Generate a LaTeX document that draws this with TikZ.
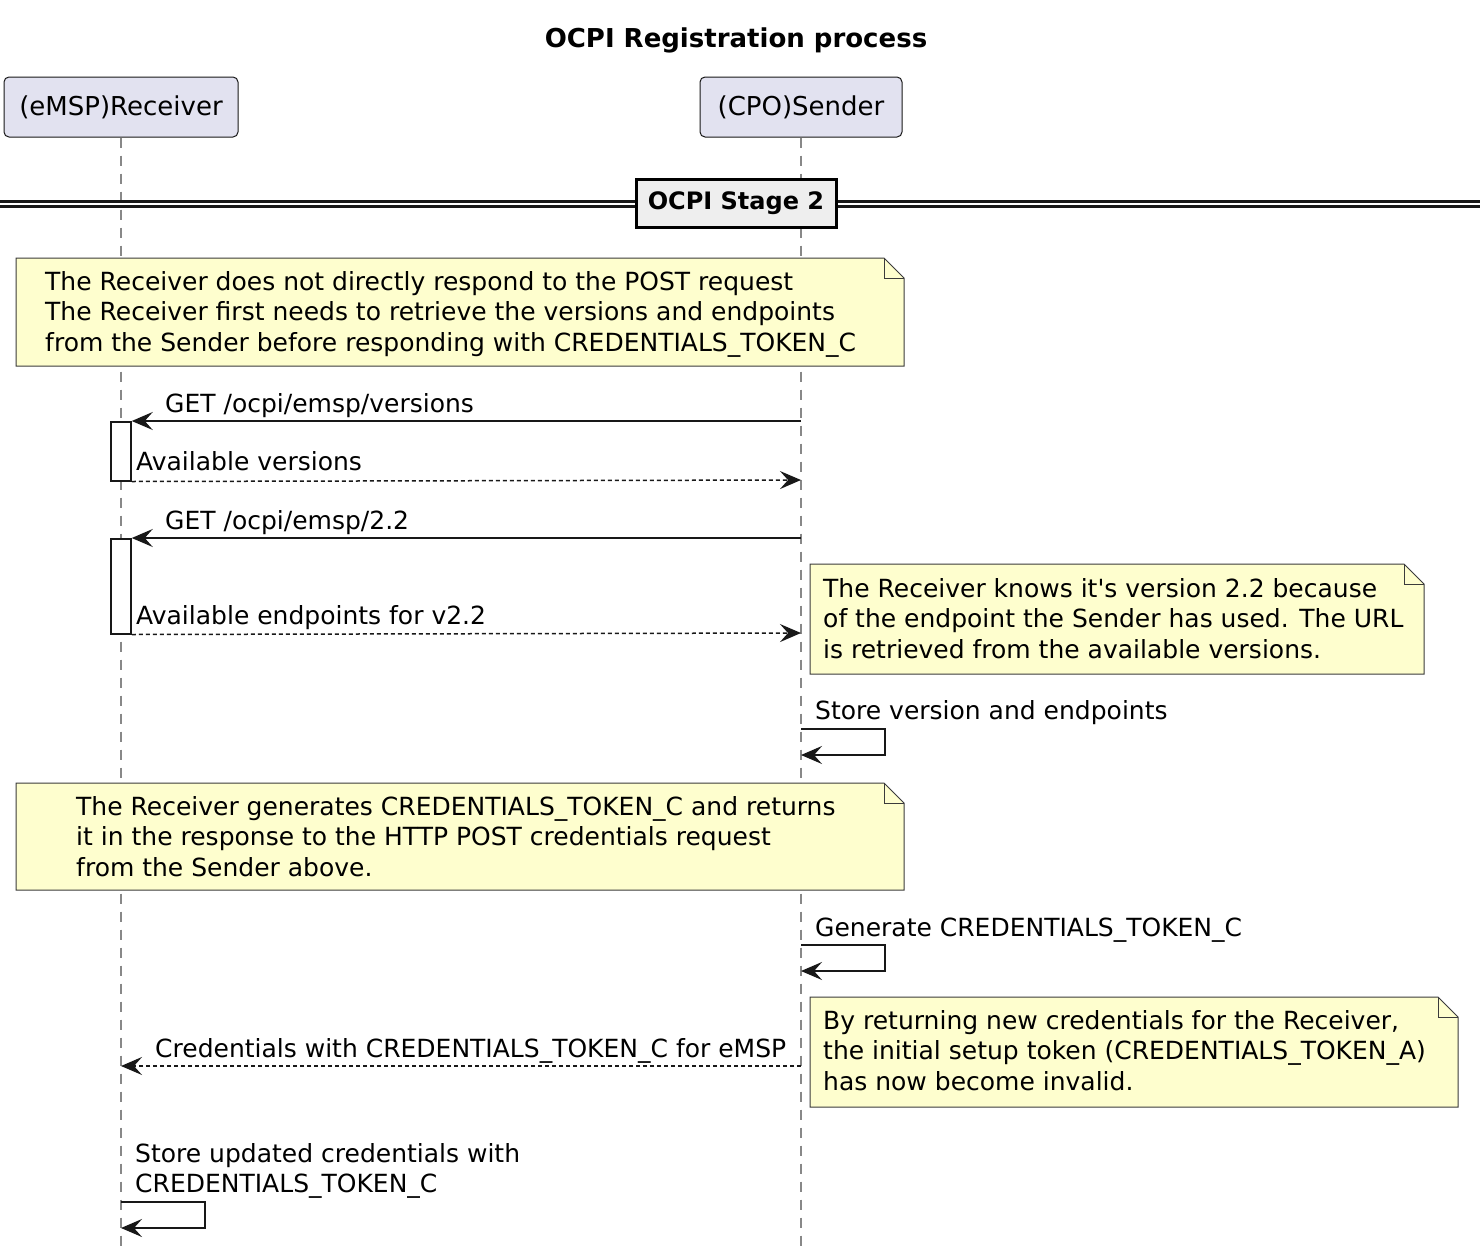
\documentclass[tikz,border=0pt]{standalone}
\usepackage{fontspec}
\setmainfont{DejaVu Sans}
\usetikzlibrary{arrows.meta}
\definecolor{partfill}{HTML}{E2E2F0}
\definecolor{notefill}{HTML}{FEFECE}
\definecolor{ink}{HTML}{181818}
\definecolor{divfill}{HTML}{EEEEEE}
\definecolor{lifegray}{HTML}{888888}
\newcommand\firstln{\rule{0pt}{22pt}}
\begin{document}
\begin{tikzpicture}[x=1pt,y=-1pt,
  basefont/.style={font=\fontsize{25}{30.5}\selectfont},
  lbl/.style={basefont, inner sep=0pt, anchor=base west},
  notetxt/.style={basefont, inner sep=0pt, anchor=north west, align=left},
  part/.style={font=\fontsize{26}{30}\selectfont, draw=ink, line width=1pt, fill=partfill, rounded corners=5pt, minimum height=60pt, inner sep=0pt},
  life/.style={draw=lifegray, line width=1.6pt, dash pattern=on 10pt off 8pt},
  notebox/.style={draw=ink!85, line width=1pt, fill=notefill},
  notefold/.style={draw=ink!85, line width=1pt},
  act/.style={draw=ink, line width=1.5pt, fill=white, inner sep=0pt, minimum width=20pt},
  msg/.style={draw=ink, line width=1.5pt, -{Stealth[length=21pt,width=18pt,inset=8pt]}},
  msgd/.style={msg, dash pattern=on 4pt off 3pt},
]
\useasboundingbox (0,0) rectangle (1480,1258);
\fill[white] (0,0) rectangle (1480,1258);

% title
\node[font=\fontsize{26}{31}\selectfont\bfseries, anchor=base, inner sep=0pt] (title) at (736,47) {OCPI Registration process};

% participants
\node[part, minimum width=234pt] (R) at (121,107) {(eMSP)Receiver};
\node[part, minimum width=202pt] (S) at (801,107) {(CPO)Sender};

% lifelines
\coordinate (Rend) at (121,1250);
\coordinate (Send) at (801,1250);
\draw[life] (R.south) -- (Rend);
\draw[life] (S.south) -- (Send);

% divider
\draw[ink, line width=2.5pt] (0,201.3) -- (1480,201.3);
\draw[ink, line width=2.5pt] (0,206.7) -- (1480,206.7);
\node[draw=black, line width=3pt, fill=divfill, font=\fontsize{24}{29}\selectfont\bfseries, minimum width=200pt, minimum height=48pt, inner sep=0pt] (stage) at (736,203) {OCPI Stage 2};

% note 1
\path[notebox] (16,258) -- (884,258) -- (904,278) -- (904,366) -- (16,366) -- cycle;
\draw[notefold] (884,258) -- (884,278) -- (904,278);
\node[notetxt] (n1) at (45,268) {\firstln The Receiver does not directly respond to the POST request\\The Receiver first needs to retrieve the versions and endpoints\\from the Sender before responding with CREDENTIALS\_TOKEN\_C};

% message 1 / 2
\node[act, minimum height=59pt, anchor=north] (A1) at (121,421) {};
\coordinate (m1s) at (801,421);
\coordinate (m2e) at (801,480);
\draw[msg] (m1s) -- (A1.north east);
\node[lbl] (l1) at (165,412) {GET /ocpi/emsp/versions};
\draw[msgd] (A1.south east) -- (m2e);
\node[lbl] (l2) at (136,470) {Available versions};

% message 3 / 4
\node[act, minimum height=95pt, anchor=north] (A2) at (121,538) {};
\coordinate (m3s) at (801,538);
\coordinate (m4e) at (801,633);
\draw[msg] (m3s) -- (A2.north east);
\node[lbl] (l3) at (165,529) {GET /ocpi/emsp/2.2};
\draw[msgd] (A2.south east) -- (m4e);
\node[lbl] (l4) at (136,624) {Available endpoints for v2.2};

% note 2
\path[notebox] (810,564) -- (1404,564) -- (1424,584) -- (1424,674) -- (810,674) -- cycle;
\draw[notefold] (1404,564) -- (1404,584) -- (1424,584);
\node[notetxt] (n2) at (823,575) {\firstln The Receiver knows it\textquotesingle s version 2.2 because\\of the endpoint the Sender has used. The URL\\is retrieved from the available versions.};

% self message 1
\coordinate (s1a) at (801,729);
\coordinate (s1b) at (801,755);
\draw[msg] (s1a) -- (885,729) -- (885,755) -- (s1b);
\node[lbl] (l5) at (815,719) {Store version and endpoints};

% note 3
\path[notebox] (16,783) -- (884,783) -- (904,803) -- (904,890) -- (16,890) -- cycle;
\draw[notefold] (884,783) -- (884,803) -- (904,803);
\node[notetxt] (n3) at (76,793) {\firstln The Receiver generates CREDENTIALS\_TOKEN\_C and returns\\it in the response to the HTTP POST credentials request\\from the Sender above.};

% self message 2
\coordinate (s2a) at (801,945);
\coordinate (s2b) at (801,971);
\draw[msg] (s2a) -- (885,945) -- (885,971) -- (s2b);
\node[lbl] (l6) at (815,936) {Generate CREDENTIALS\_TOKEN\_C};

% note 4
\path[notebox] (810,997) -- (1438,997) -- (1458,1017) -- (1458,1107) -- (810,1107) -- cycle;
\draw[notefold] (1438,997) -- (1438,1017) -- (1458,1017);
\node[notetxt] (n4) at (823,1007) {\firstln By returning new credentials for the Receiver,\\the initial setup token (CREDENTIALS\_TOKEN\_A)\\has now become invalid.};

% message 5
\coordinate (m5s) at (801,1066);
\coordinate (m5e) at (121,1066);
\draw[msgd] (m5s) -- (m5e);
\node[lbl] (l7) at (155,1057) {Credentials with CREDENTIALS\_TOKEN\_C for eMSP};

% self message 3
\coordinate (s3a) at (121,1202);
\coordinate (s3b) at (121,1228);
\draw[msg] (s3a) -- (205,1202) -- (205,1228) -- (s3b);
\node[notetxt] (l8) at (135,1140) {\firstln Store updated credentials with\\CREDENTIALS\_TOKEN\_C};
\end{tikzpicture}
\end{document}
